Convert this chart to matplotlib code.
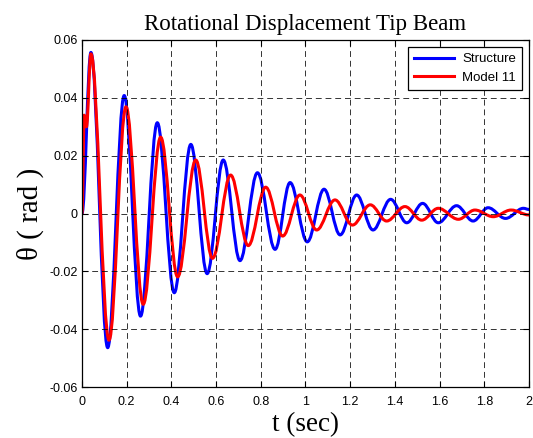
import matplotlib.pyplot as plt
import numpy as np
from matplotlib.path import Path
from matplotlib.patches import PathPatch
from matplotlib.lines import Line2D
from matplotlib.ticker import FormatStrFormatter

# Extrema (time in sec, rotation in rad)
t_struct = [0, 0.040, 0.115, 0.189, 0.262, 0.337, 0.413, 0.487, 0.560, 0.632,
            0.707, 0.785, 0.864, 0.931, 1.008, 1.083, 1.155, 1.229, 1.302,
            1.381, 1.453, 1.524, 1.594, 1.676, 1.750, 1.817, 1.895, 1.975, 2.0]
th_struct = [0, 0.0557, -0.0464, 0.0408, -0.0355, 0.0314, -0.0274, 0.0239,
             -0.0208, 0.0185, -0.0163, 0.0141, -0.0124, 0.0107, -0.0098,
             0.0084, -0.0074, 0.0064, -0.0057, 0.0049, -0.0032, 0.0035,
             -0.0032, 0.0027, -0.0026, 0.0020, -0.0017, 0.0018, 0.0014]

t_model = [0, 0.010, 0.020, 0.040, 0.121, 0.197, 0.274, 0.352, 0.428, 0.509,
           0.584, 0.665, 0.744, 0.822, 0.898, 0.975, 1.050, 1.132, 1.210,
           1.290, 1.363, 1.445, 1.520, 1.594, 1.684, 1.758, 1.840, 1.920, 2.0]
th_model = [0, 0.034, 0.030, 0.0552, -0.0438, 0.0369, -0.0314, 0.0264,
            -0.0219, 0.0185, -0.0155, 0.0133, -0.0111, 0.0091, -0.0078,
            0.0064, -0.0057, 0.0047, -0.0040, 0.0030, -0.0026, 0.0024,
            -0.0023, 0.0018, -0.0020, 0.0012, -0.0011, 0.0012, -0.0005]

series_names = ['Structure', 'Model 11']
series_colors = ['#0000ff', '#ff0000']

x_ticks = [0, 0.2, 0.4, 0.6, 0.8, 1.0, 1.2, 1.4, 1.6, 1.8, 2.0]
y_ticks = [-0.06, -0.04, -0.02, 0, 0.02, 0.04, 0.06]


def smooth_path(t, y, k=0.364):
    # bezier segments between extrema, flat tangent at each extremum
    verts = [(t[0], y[0])]
    codes = [Path.MOVETO]
    for i in range(1, len(t)):
        dt = t[i] - t[i - 1]
        verts += [(t[i - 1] + k * dt, y[i - 1]), (t[i] - k * dt, y[i]), (t[i], y[i])]
        codes += [Path.CURVE4] * 3
    return Path(verts, codes)


fig = plt.figure(figsize=(5.33, 4.38), dpi=100)
ax = fig.add_axes([0.1538, 0.1164, 0.8387, 0.7923])

handles = []
for (t, th), name, col in zip([(t_struct, th_struct), (t_model, th_model)],
                              series_names, series_colors):
    ax.add_patch(PathPatch(smooth_path(t, th), facecolor='none', edgecolor=col,
                           lw=2.2, joinstyle='round', capstyle='round'))
    handles.append(Line2D([], [], color=col, lw=2.2, label=name))

ax.set_xlim(0, 2)
ax.set_ylim(-0.06, 0.06)
ax.set_xticks(x_ticks)
ax.set_yticks(y_ticks)
ax.xaxis.set_major_formatter(FormatStrFormatter('%g'))
ax.yaxis.set_major_formatter(FormatStrFormatter('%g'))
ax.tick_params(direction='in', top=True, right=True, length=4, width=0.8,
               labelsize=9, pad=3)
ax.tick_params(axis='x', pad=6.5)
for lab in ax.get_xticklabels() + ax.get_yticklabels():
    lab.set_family('Liberation Sans')
for s in ax.spines.values():
    s.set_linewidth(0.9)

ax.grid(True, color='k', linestyle=(0, (6, 4)), linewidth=0.7, alpha=0.8)

ax.set_title('Rotational Displacement Tip Beam', family='Liberation Serif',
             fontsize=16.5, pad=7)
ax.set_xlabel('t (sec)', family='Liberation Serif', fontsize=19.5, labelpad=3)
ax.set_ylabel('θ ( rad )', family='Liberation Serif', fontsize=21, labelpad=4)

leg = ax.legend(handles=handles, loc='upper right',
                prop={'family': 'Liberation Sans', 'size': 9.5},
                handlelength=3.0, handletextpad=0.6, fancybox=False,
                framealpha=1, borderaxespad=0.5, borderpad=0.5,
                labelspacing=0.45)
leg.get_frame().set_edgecolor('k')
leg.get_frame().set_linewidth(0.9)

plt.savefig('out.png', dpi=100)
